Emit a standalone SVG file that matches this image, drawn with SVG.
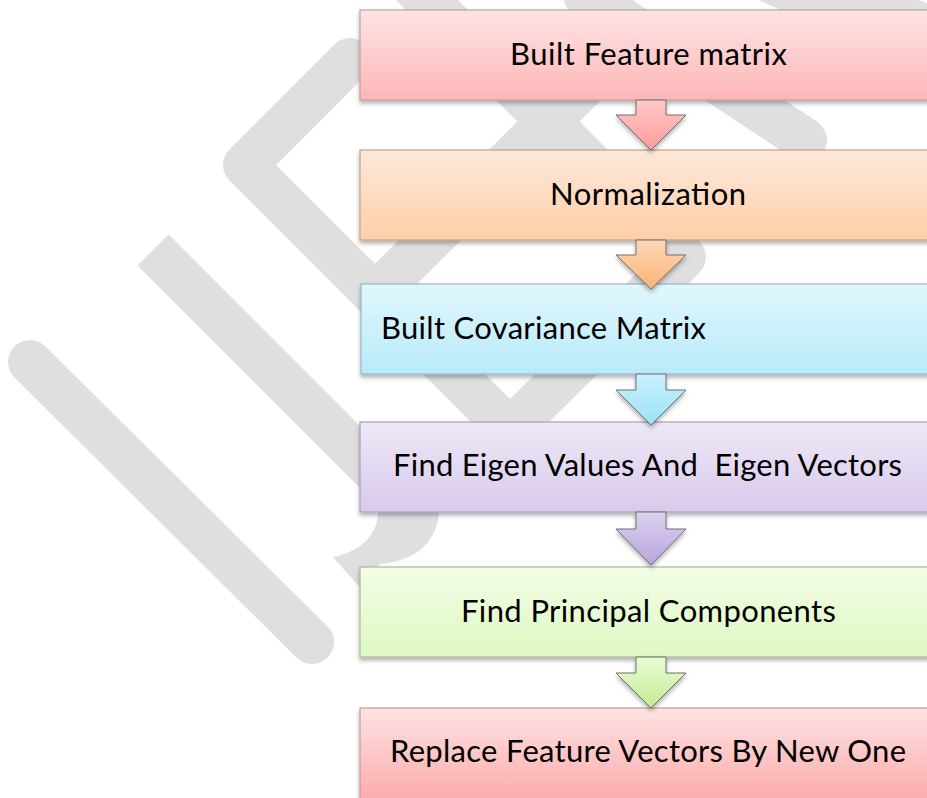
<svg xmlns="http://www.w3.org/2000/svg" width="927" height="798" viewBox="0 0 927 798">
<defs>
  <linearGradient id="g1" x1="0" y1="0" x2="0" y2="1"><stop offset="0" stop-color="#fee3e4"/><stop offset="1" stop-color="#fdb6b7"/></linearGradient>
  <linearGradient id="g2" x1="0" y1="0" x2="0" y2="1"><stop offset="0" stop-color="#fee8da"/><stop offset="1" stop-color="#fdcfa9"/></linearGradient>
  <linearGradient id="g3" x1="0" y1="0" x2="0" y2="1"><stop offset="0" stop-color="#e1f7fd"/><stop offset="1" stop-color="#b8eafa"/></linearGradient>
  <linearGradient id="g4" x1="0" y1="0" x2="0" y2="1"><stop offset="0" stop-color="#efe8f7"/><stop offset="1" stop-color="#d7caec"/></linearGradient>
  <linearGradient id="g5" x1="0" y1="0" x2="0" y2="1"><stop offset="0" stop-color="#f3fde6"/><stop offset="1" stop-color="#def8c2"/></linearGradient>
  <linearGradient id="g6" x1="0" y1="0" x2="0" y2="1"><stop offset="0" stop-color="#fee3e3"/><stop offset="1" stop-color="#fda9a9"/></linearGradient>
  <linearGradient id="a1" x1="0" y1="0" x2="0" y2="1"><stop offset="0" stop-color="#ffc9c9"/><stop offset="1" stop-color="#ff9c9c"/></linearGradient>
  <linearGradient id="a2" x1="0" y1="0" x2="0" y2="1"><stop offset="0" stop-color="#fdd8b6"/><stop offset="1" stop-color="#fbb377"/></linearGradient>
  <linearGradient id="a3" x1="0" y1="0" x2="0" y2="1"><stop offset="0" stop-color="#caf1fc"/><stop offset="1" stop-color="#9be2f8"/></linearGradient>
  <linearGradient id="a4" x1="0" y1="0" x2="0" y2="1"><stop offset="0" stop-color="#ddd2f1"/><stop offset="1" stop-color="#b8a4dd"/></linearGradient>
  <linearGradient id="a5" x1="0" y1="0" x2="0" y2="1"><stop offset="0" stop-color="#eafbd3"/><stop offset="1" stop-color="#c4ec95"/></linearGradient>
  <filter id="sh" x="-10%" y="-10%" width="120%" height="140%">
    <feDropShadow dx="0" dy="3" stdDeviation="2" flood-color="#000" flood-opacity="0.3"/>
  </filter>
</defs>
<style>
  .wm{fill:none;stroke:#dfdfdf;stroke-width:44;stroke-linecap:round;stroke-linejoin:round}
  .wmf{fill:#dfdfdf;stroke:none}
  .box{stroke-width:1.2;filter:url(#sh)}
  .lbl{font-family:Lato,"Liberation Sans",sans-serif;font-size:31px;fill:#000}
  .arr{stroke:#707070;stroke-width:1;filter:url(#sh)}
</style>
<rect width="927" height="798" fill="#ffffff"/>
<g id="watermark">
  <path class="wm" d="M30,362 L312,642"/>
  <path class="wm" d="M153,250 L410,507" style="stroke-linecap:butt"/>
  <path class="wmf" d="M378,500 L440,500 C440,540 420,560 380,564 L362,590 L333,557 C360,552 378,535 378,512 Z"/>
  <path class="wm" d="M350,60 L245,165 L510,430 L684,257 L410,-17"/>
  <path class="wm" d="M375,295 L640,30"/>
  <path class="wm" d="M585,-5 L805,140"/>
  <path class="wm" d="M700,-60 L1000,70" style="stroke-width:64"/>
</g>
<g id="node1">
  <rect class="box" x="360" y="10" width="580" height="90" fill="url(#g1)" stroke="#c39d9d"/>
  <text class="lbl" x="510" y="65" textLength="277">Built Feature matrix</text>
</g>
<g id="node2">
  <rect class="box" x="360" y="150" width="580" height="90" fill="url(#g2)" stroke="#c6a283"/>
  <text class="lbl" x="550" y="205" textLength="196">Normalization</text>
</g>
<g id="node3">
  <rect class="box" x="361" y="284" width="579" height="90" fill="url(#g3)" stroke="#97b6c6"/>
  <text class="lbl" x="381" y="339" textLength="325">Built Covariance Matrix</text>
</g>
<g id="node4">
  <rect class="box" x="360" y="422" width="580" height="90" fill="url(#g4)" stroke="#aa9eb9"/>
  <text class="lbl" x="393" y="476" textLength="509" xml:space="preserve">Find Eigen Values And  Eigen Vectors</text>
</g>
<g id="node5">
  <rect class="box" x="360" y="567" width="580" height="90" fill="url(#g5)" stroke="#a9b998"/>
  <text class="lbl" x="461" y="622" textLength="375">Find Principal Components</text>
</g>
<g id="node6">
  <rect class="box" x="360" y="708" width="580" height="95" fill="url(#g6)" stroke="#c49b9b"/>
  <text class="lbl" x="390" y="762" textLength="516">Replace Feature Vectors By New One</text>
</g>
<g id="connectors">
  <polygon class="arr" fill="url(#a1)" points="636,100 666,100 666,115 686,115 651,150 616,115 636,115"/>
  <polygon class="arr" fill="url(#a2)" points="636,240 666,240 666,255 686,255 651,289 616,255 636,255"/>
  <polygon class="arr" fill="url(#a3)" points="636,374 666,374 666,390 686,390 651,425 616,390 636,390"/>
  <polygon class="arr" fill="url(#a4)" points="636,512 666,512 666,529 686,529 651,565 616,529 636,529"/>
  <polygon class="arr" fill="url(#a5)" points="636,657 666,657 666,673 686,673 651,708 616,673 636,673"/>
</g>
</svg>
